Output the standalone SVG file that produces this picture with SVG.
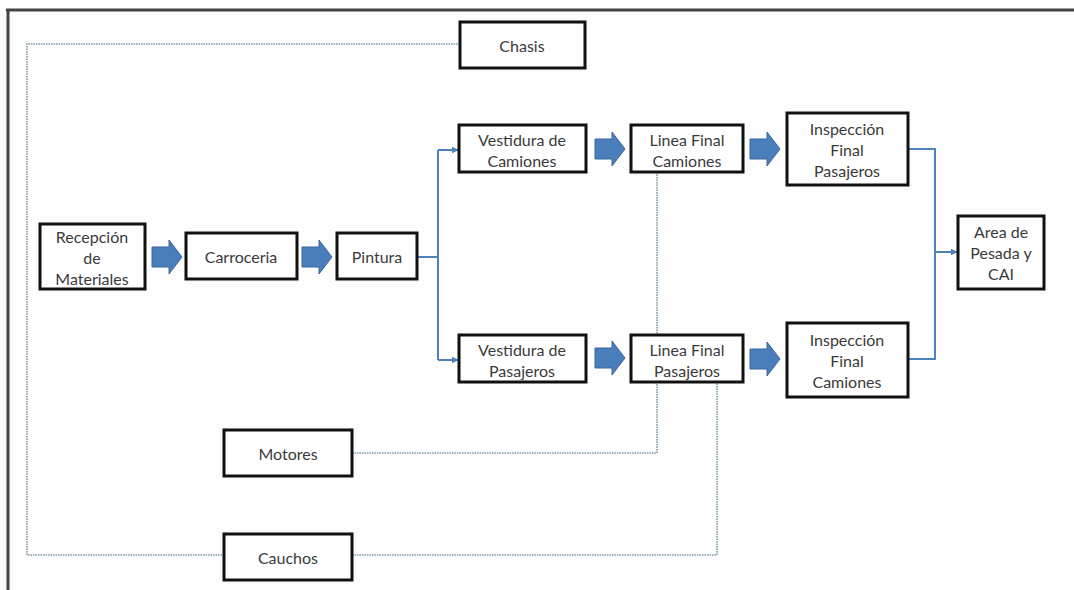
<svg xmlns="http://www.w3.org/2000/svg" width="1074" height="590" viewBox="0 0 1074 590">
<style>
.box{fill:#fff;stroke:#111;stroke-width:3}
.t{font-family:Lato,"Liberation Sans",sans-serif;font-size:16px;fill:#3a3a3a;text-anchor:middle;dominant-baseline:central}
.flow{fill:none;stroke:#4f81bd;stroke-width:2}
.dot{fill:none;stroke:#7d97a8;stroke-width:1.6;stroke-dasharray:1.5 1}
.blk{fill:#4a7ebb;stroke:#3a679c;stroke-width:1}
</style>
<defs>
<marker id="ah2" viewBox="0 0 10 10" refX="9" refY="5" markerWidth="7" markerHeight="7" orient="auto" markerUnits="userSpaceOnUse">
<path d="M0,0 L10,5 L0,10 z" fill="#4f81bd"/>
</marker>
<path id="barrow" d="M0,-10 L17,-10 L17,-17 L30,0 L17,17 L17,10 L0,10 z"/>
</defs>
<rect x="0" y="0" width="1074" height="590" fill="#fdfdfd"/>
<g id="frame">
<line x1="6" y1="10" x2="1074" y2="10" stroke="#444" stroke-width="3"/>
<line x1="8" y1="9" x2="8" y2="590" stroke="#444" stroke-width="3"/>
</g>
<g id="connectors">
<path class="dot" d="M460,44 H27 V555 H224"/>
<path class="dot" d="M352,555 H717 V382"/>
<path class="dot" d="M352,453 H657 V382"/>
<path class="dot" d="M657,172 V335"/>
<path class="flow" d="M417,257 H438"/>
<path class="flow" d="M438,150 V360"/>
<path class="flow" d="M438,150 H458" marker-end="url(#ah2)"/>
<path class="flow" d="M438,360 H458" marker-end="url(#ah2)"/>
<path class="flow" d="M908,149 H935 V359 H908"/>
<path class="flow" d="M935,252 H957" marker-end="url(#ah2)"/>
<use href="#barrow" class="blk" x="152" y="257"/>
<use href="#barrow" class="blk" x="302" y="257"/>
<use href="#barrow" class="blk" x="595" y="149"/>
<use href="#barrow" class="blk" x="750" y="149"/>
<use href="#barrow" class="blk" x="595" y="358"/>
<use href="#barrow" class="blk" x="750" y="359"/>
</g>
<g id="chasis"><rect class="box" x="460" y="22" width="125" height="46"/><text class="t" x="522" y="45">Chasis</text></g>
<g id="recepcion"><rect class="box" x="40" y="224" width="105" height="65"/><text class="t" x="92" y="236">Recepción</text><text class="t" x="92" y="257">de</text><text class="t" x="92" y="278">Materiales</text></g>
<g id="carroceria"><rect class="box" x="186" y="233" width="111" height="46"/><text class="t" x="241" y="256">Carroceria</text></g>
<g id="pintura"><rect class="box" x="337" y="233" width="80" height="46"/><text class="t" x="377" y="256">Pintura</text></g>
<g id="vest-cam"><rect class="box" x="459" y="125" width="127" height="47"/><text class="t" x="522" y="139">Vestidura de</text><text class="t" x="522" y="160">Camiones</text></g>
<g id="linea-cam"><rect class="box" x="631" y="125" width="112" height="47"/><text class="t" x="687" y="139">Linea Final</text><text class="t" x="687" y="160">Camiones</text></g>
<g id="insp-pas"><rect class="box" x="787" y="113" width="121" height="72"/><text class="t" x="847" y="128">Inspección</text><text class="t" x="847" y="149">Final</text><text class="t" x="847" y="170">Pasajeros</text></g>
<g id="vest-pas"><rect class="box" x="459" y="335" width="127" height="47"/><text class="t" x="522" y="349">Vestidura de</text><text class="t" x="522" y="370">Pasajeros</text></g>
<g id="linea-pas"><rect class="box" x="631" y="335" width="112" height="47"/><text class="t" x="687" y="349">Linea Final</text><text class="t" x="687" y="370">Pasajeros</text></g>
<g id="insp-cam"><rect class="box" x="787" y="323" width="121" height="74"/><text class="t" x="847" y="339">Inspección</text><text class="t" x="847" y="360">Final</text><text class="t" x="847" y="381">Camiones</text></g>
<g id="area"><rect class="box" x="958" y="216" width="86" height="73"/><text class="t" x="1001" y="231">Area de</text><text class="t" x="1001" y="252">Pesada y</text><text class="t" x="1001" y="273">CAI</text></g>
<g id="motores"><rect class="box" x="224" y="430" width="128" height="46"/><text class="t" x="288" y="453">Motores</text></g>
<g id="cauchos"><rect class="box" x="224" y="534" width="128" height="46"/><text class="t" x="288" y="557">Cauchos</text></g>
</svg>
